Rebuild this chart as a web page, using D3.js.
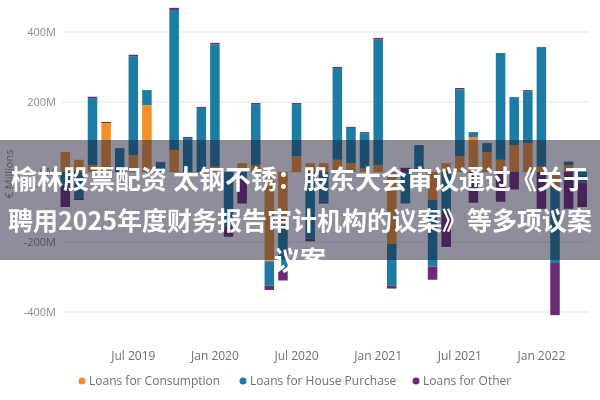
<!DOCTYPE html>
<html>
<head>
<meta charset="utf-8">
<script src="https://cdn.jsdelivr.net/npm/d3@7"></script>
<style>
  html, body { margin: 0; padding: 0; background: #fff; }
  svg { display: block; }
</style>
</head>
<body>
<svg id="chart" width="600" height="400"></svg>
<script>
// ---- data (values in millions) ----
const months = [
  "2019-02","2019-03","2019-04","2019-05","2019-06","2019-07","2019-08","2019-09","2019-10","2019-11","2019-12",
  "2020-01","2020-02","2020-03","2020-04","2020-05","2020-06","2020-07","2020-08","2020-09","2020-10","2020-11","2020-12",
  "2021-01","2021-02","2021-03","2021-04","2021-05","2021-06","2021-07","2021-08","2021-09","2021-10","2021-11","2021-12",
  "2022-01","2022-02","2022-03","2022-04"
];
const consumption = [57,35,20,140,0,48,191,0,63,0,0, 15,0,25,20,-255,-150,45,25,25,35,25,10, 20,-205,0,0,-80,25,45,100,57,35,77,83, 15,-43,20,0];
const housePurchase = [-40,-75,191,0,66,283,43,27,400,97,183, 349,-155,-20,174,-70,-130,149,-190,-85,262,101,101, 358,-120,-90,75,-190,-117,191,14,24,305,137,148, 342,-217,10,-30];
const other = [-60,-5,4,3,2,4,0,2,6,3,3, 5,-30,-70,3,-12,-30,3,-8,-5,3,3,3, 5,-8,12,2,-38,-97,4,-88,2,-85,-50,3, -105,-149,-105,-70];

const seriesNames = ["Loans for Consumption","Loans for House Purchase","Loans for Other"];
const seriesColors = ["#F4902A","#1B7CA3","#6E2C78"];
const yTicks = [-400,-200,0,200,400];
const xTickMonths = ["2019-07","2020-01","2020-07","2021-01","2021-07","2022-01"];
const xTickLabels = ["Jul 2019","Jan 2020","Jul 2020","Jan 2021","Jul 2021","Jan 2022"];
const yAxisTitle = "€ Millions";
const titleLines = ["榆林股票配资 太钢不锈：股东大会审议通过《关于","聘用2025年度财务报告审计机构的议案》等多项议案","议案"];

// ---- build ----
const svg = d3.select("#chart");
const font = "'Open Sans', 'Segoe UI', sans-serif";

const defs = svg.append("defs");
defs.append("filter").attr("id","soft")
  .append("feGaussianBlur").attr("stdDeviation", 0.5);

const table = months.map((m, i) => ({ month: m, c: consumption[i], h: housePurchase[i], o: other[i] }));
const keys = ["c","h","o"];

const x = d3.scaleBand().domain(months).range([58.5, 589]).paddingInner(0.3).paddingOuter(0.15);
const y = d3.scaleLinear().domain([-400, 400]).range([312, 32]);

const chart = svg.append("g").attr("filter","url(#soft)");

// gridlines
chart.append("g").selectAll("line").data(yTicks).join("line")
  .attr("x1", 62).attr("x2", 589)
  .attr("y1", d => y(d)).attr("y2", d => y(d))
  .attr("stroke", "#e4e4e4").attr("stroke-width", 1);

// y axis
const yAxis = d3.axisLeft(y).tickValues(yTicks).tickSize(0).tickPadding(0)
  .tickFormat(d => d + "M");
chart.append("g").attr("transform","translate(56,0)").call(yAxis)
  .call(g => g.select(".domain").remove())
  .call(g => g.selectAll("text").attr("fill","#8a8a8a").style("font-family", font).style("font-size","11px"));

// y axis title
chart.append("text")
  .attr("transform","translate(13,174) rotate(-90)")
  .attr("text-anchor","middle")
  .attr("fill","#8a8a8a").style("font-family", font).style("font-size","11px")
  .text(yAxisTitle);

// x axis
const tickMap = new Map(xTickMonths.map((m, i) => [m, xTickLabels[i]]));
const xAxis = d3.axisBottom(x).tickValues(xTickMonths).tickSize(0).tickPadding(0)
  .tickFormat(d => tickMap.get(d));
chart.append("g").attr("transform","translate(0,351)").call(xAxis)
  .call(g => g.select(".domain").remove())
  .call(g => g.selectAll("text").attr("fill","#6f6f6f").style("font-family", font).style("font-size","12px"));

// bars
const stacked = d3.stack().keys(keys).offset(d3.stackOffsetDiverging)(table);
chart.append("g").selectAll("g").data(stacked).join("g")
  .attr("fill", (d, i) => seriesColors[i])
  .selectAll("rect").data(d => d).join("rect")
  .attr("x", d => x(d.data.month))
  .attr("width", x.bandwidth())
  .attr("y", d => y(Math.max(d[0], d[1])))
  .attr("height", d => Math.abs(y(d[0]) - y(d[1])));

// legend
const legendX = [82, 243, 416];
const legend = chart.append("g").attr("transform","translate(0,381)");
const li = legend.selectAll("g").data(seriesNames).join("g")
  .attr("transform", (d, i) => `translate(${legendX[i]},0)`);
li.append("circle").attr("r", 3.5).attr("fill", (d, i) => seriesColors[i]);
li.append("text").attr("x", 7).attr("dy","0.35em")
  .attr("fill","#6f6f6f").style("font-family", font).style("font-size","12px")
  .text(d => d);

// overlay band with title
svg.append("rect").attr("x",0).attr("y",140).attr("width",600).attr("height",120)
  .attr("fill","rgb(30,30,55)").attr("fill-opacity",0.5);

const tY = [180, 221, 261];
const tSize = [26, 25, 26];
svg.append("g").selectAll("text").data(titleLines).join("text")
  .attr("x", 300).attr("y", (d, i) => tY[i]).attr("dy","0.36em")
  .attr("text-anchor","middle")
  .attr("fill","#ffffff")
  .style("font-family","'Noto Sans CJK SC', sans-serif")
  .style("font-weight","bold")
  .style("font-size", (d, i) => tSize[i] + "px")
  .text(d => d);
</script>
</body>
</html>
